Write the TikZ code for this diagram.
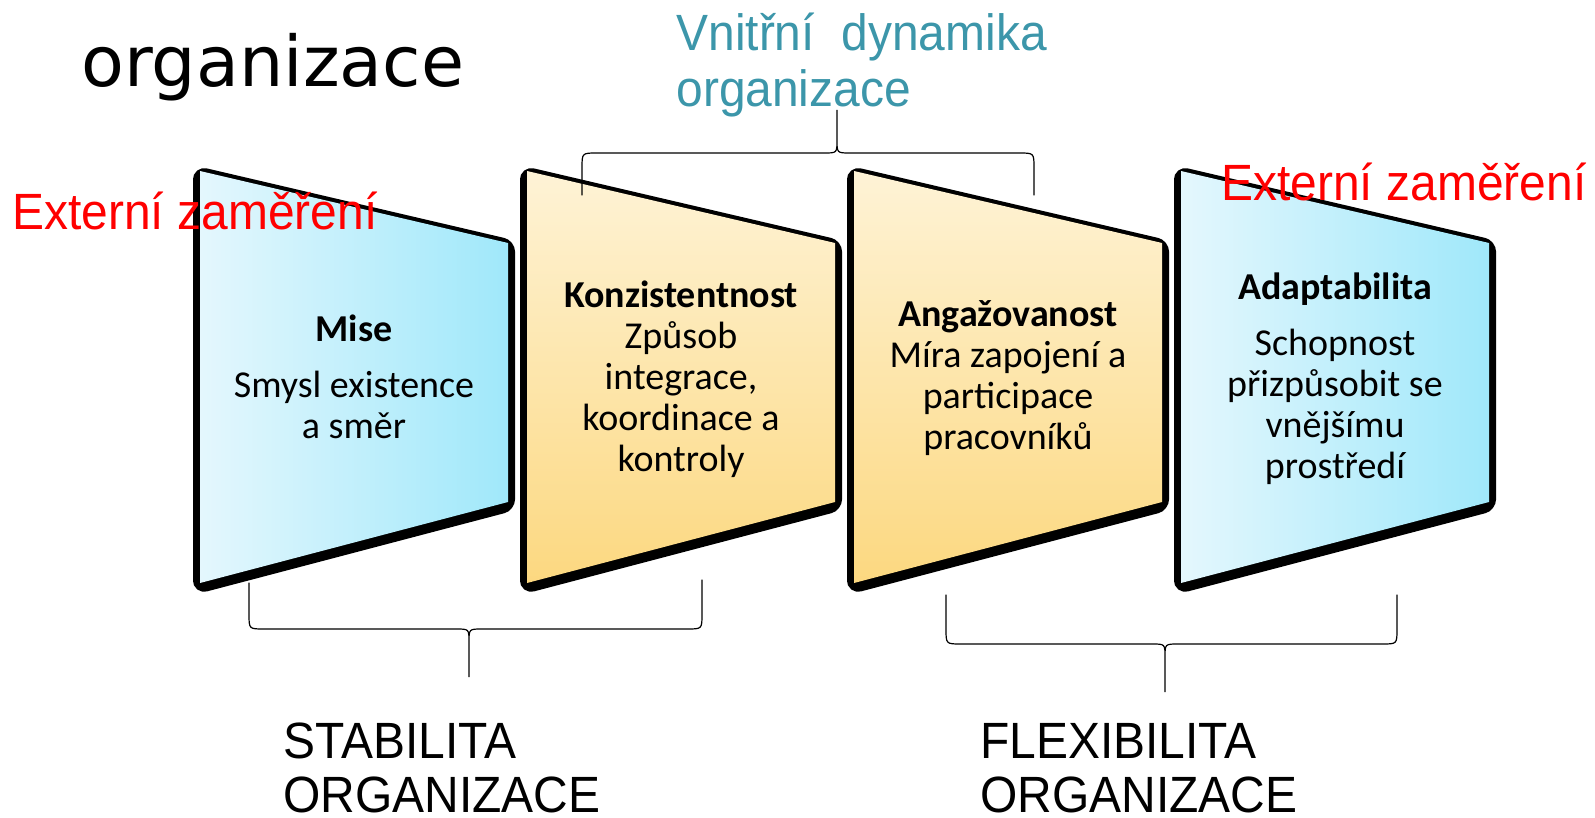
\documentclass[tikz,border=0pt]{standalone}
\usepackage{fontspec}
\usepackage{tikz}
\setmainfont{Carlito}
\newfontfamily\labelfont[FakeStretch=0.94]{Liberation Sans}
\newfontfamily\titlefont{DejaVu Sans}
\definecolor{ColBlueA}{RGB}{228,247,253}
\definecolor{ColBlueB}{RGB}{160,232,250}
\definecolor{ColGoldA}{RGB}{254,243,214}
\definecolor{ColGoldB}{RGB}{252,216,128}
\definecolor{ColTeal}{RGB}{60,150,170}
\definecolor{ColRed}{RGB}{255,0,0}
\tikzstyle{PanelShadow}=[fill=black,draw=black,line width=7pt,rounded corners=3pt]
\tikzstyle{PanelBlue}=[left color=ColBlueA,right color=ColBlueB]
\tikzstyle{PanelGold}=[top color=ColGoldA,bottom color=ColGoldB]
\tikzstyle{PanelText}=[align=center,inner sep=0pt,font=\fontsize{19pt}{20.5pt}\selectfont]
\tikzstyle{LabelText}=[align=left,inner sep=0pt,anchor=base west,
font=\labelfont\fontsize{25.5pt}{28pt}\selectfont]
\tikzstyle{BraceLine}=[black,line width=0.6pt,line cap=round]

\begin{document}
\begin{tikzpicture}[x=0.5pt,y=-0.5pt]
        \useasboundingbox(0,0)rectangle(1595,818);
        % panels
        \fill[PanelShadow](200,174)--(508,246)--(508,505)--(200,586)--cycle;
        \fill[PanelBlue](200,171)--(508,243)--(508,502)--(200,583)--cycle;
        \fill[PanelShadow](527,174)--(835,246)--(835,505)--(527,586)--cycle;
        \fill[PanelGold](527,171)--(835,243)--(835,502)--(527,583)--cycle;
        \fill[PanelShadow](854,174)--(1162,246)--(1162,505)--(854,586)--cycle;
        \fill[PanelGold](854,171)--(1162,243)--(1162,502)--(854,583)--cycle;
        \fill[PanelShadow](1181,174)--(1489,246)--(1489,505)--(1181,586)--cycle;
        \fill[PanelBlue](1181,171)--(1489,243)--(1489,502)--(1181,583)--cycle;
        \node[PanelText](mise)at(354,377){\textbf{Mise}\\[7.5pt]Smysl existence\\a směr};
        \node[PanelText](konz)at(681,379){\textbf{Konzistentnost}\\Způsob\\integrace,\\koordinace a\\kontroly};
        \node[PanelText](anga)at(1008,378){\textbf{Angažovanost}\\Míra zapojení a\\participace\\pracovníků};
        \node[PanelText](adapt)at(1335,379){\textbf{Adaptabilita}\\[7.5pt]Schopnost\\přizpůsobit se\\vnějšímu\\prostředí};
        % labels
        \node[inner sep=0pt,anchor=base west,font=\titlefont\fontsize{35pt}{40pt}\selectfont](title)at(81,87){organizace};
        \node[LabelText,ColTeal](inner)at(676,107){Vnitřní\ \ dynamika\\organizace};
        \node[LabelText,ColRed](extL)at(12,230){Externí zaměření};
        \node[LabelText,ColRed](extR)at(1221,201){Externí zaměření};
        \node[LabelText,font=\labelfont\fontsize{25.5pt}{27pt}\selectfont](stab)at(283,812){STABILITA\\ORGANIZACE};
        \node[LabelText,font=\labelfont\fontsize{25.5pt}{27pt}\selectfont](flex)at(980,812){FLEXIBILITA\\ORGANIZACE};
        % braces
        \coordinate(TopL)at(582,195);
        \coordinate(TopR)at(1034,195);
        \coordinate(TopT)at(837,110);
        \coordinate(StabL)at(249,583);
        \coordinate(StabR)at(702,580);
        \coordinate(StabT)at(469,677);
        \coordinate(FlexL)at(946,595);
        \coordinate(FlexR)at(1397,595);
        \coordinate(FlexT)at(1165,692);
        \draw[BraceLine](TopL)--(582,168).. controls (582,153) ..(597,153)--(824,153)
            .. controls (837,153) ..(837,140)--(TopT)--(837,140).. controls (837,153) ..(850,153)
            --(1019,153).. controls (1034,153) ..(1034,168)--(TopR);
        \draw[BraceLine](StabL)--(249,614).. controls (249,629) ..(264,629)--(456,629)
            .. controls (469,629) ..(469,642)--(StabT)--(469,642).. controls (469,629) ..(482,629)
            --(687,629).. controls (702,629) ..(702,614)--(StabR);
        \draw[BraceLine](FlexL)--(946,629).. controls (946,644) ..(961,644)--(1152,644)
            .. controls (1165,644) ..(1165,657)--(FlexT)--(1165,657).. controls (1165,644) ..(1178,644)
            --(1382,644).. controls (1397,644) ..(1397,629)--(FlexR);
    \end{tikzpicture}
\end{document}
